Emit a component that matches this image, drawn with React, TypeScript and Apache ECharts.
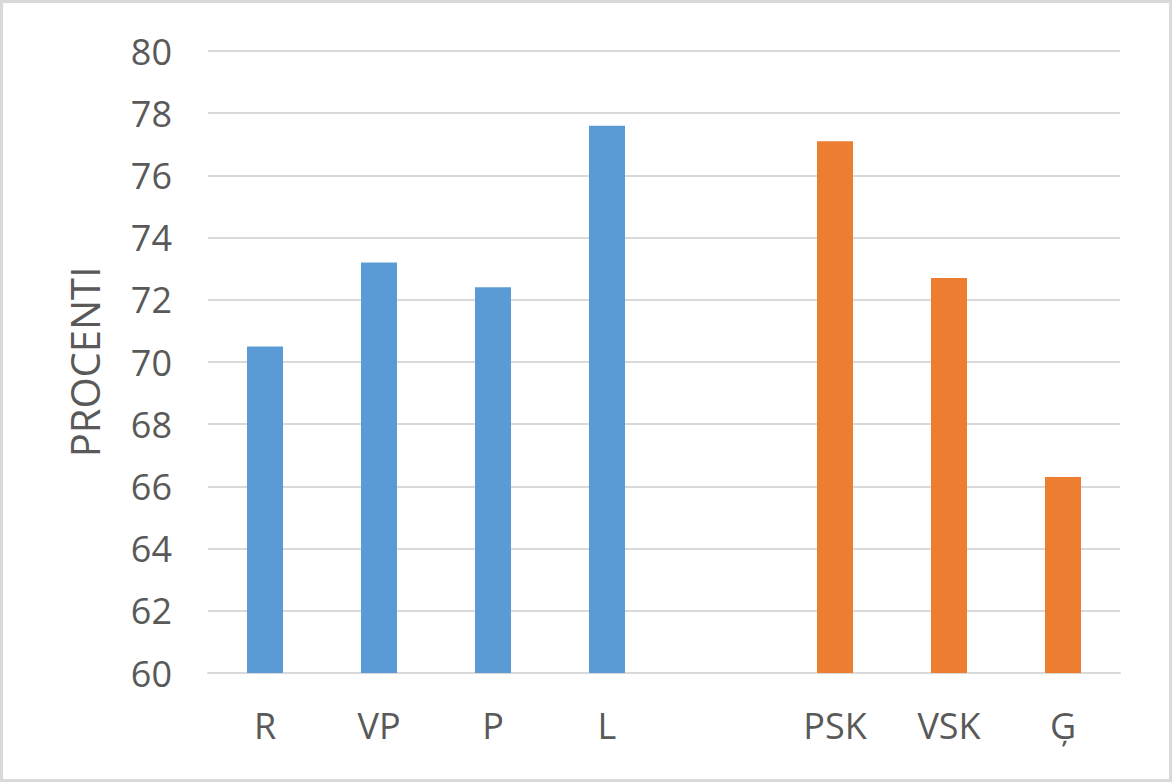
import React, { useEffect, useRef } from "react";
import * as echarts from "echarts";

const categories = ["R", "VP", "P", "L", "", "PSK", "VSK", "Ģ"];
const values: (number | null)[] = [70.5, 73.2, 72.4, 77.6, null, 77.1, 72.7, 66.3];
const groupOf = ["a", "a", "a", "a", "", "b", "b", "b"];
const colors: Record<string, string> = { a: "#5B9BD5", b: "#ED7D31" };

export default function App() {
  const ref = useRef<HTMLDivElement>(null);
  useEffect(() => {
    const chart = echarts.init(ref.current!, null, { renderer: "svg" });
    chart.setOption({
      animation: false,
      backgroundColor: "#ffffff",
      textStyle: { fontFamily: "Open Sans" },
      grid: { left: 205, right: 49, top: 48, bottom: 106, containLabel: false },
      xAxis: {
        type: "category",
        data: categories,
        axisLine: { lineStyle: { color: "#d9d9d9", width: 2 } },
        axisTick: { show: false },
        axisLabel: { color: "#595959", fontSize: 36, margin: 34 },
      },
      yAxis: {
        type: "value",
        min: 60,
        max: 80,
        interval: 2,
        name: "PROCENTI",
        nameLocation: "middle",
        nameGap: 104,
        nameTextStyle: { color: "#595959", fontSize: 40 },
        axisLine: { show: false },
        axisTick: { show: false },
        axisLabel: { color: "#595959", fontSize: 36, margin: 36 },
        splitLine: { lineStyle: { color: "#d9d9d9", width: 2 } },
      },
      series: [
        {
          type: "bar",
          barWidth: 36,
          data: values.map((v, i) => ({
            value: v === null ? "-" : v,
            itemStyle: { color: colors[groupOf[i]] || "#5B9BD5" },
          })),
        },
      ],
    });
    return () => chart.dispose();
  }, []);
  return (
    <div
      style={{
        position: "fixed",
        left: 0,
        top: 0,
        width: 1172,
        height: 782,
        boxSizing: "border-box",
        border: "3px solid #d9d9d9",
        background: "#fff",
      }}
    >
      <div ref={ref} style={{ width: 1166, height: 776 }} />
    </div>
  );
}
